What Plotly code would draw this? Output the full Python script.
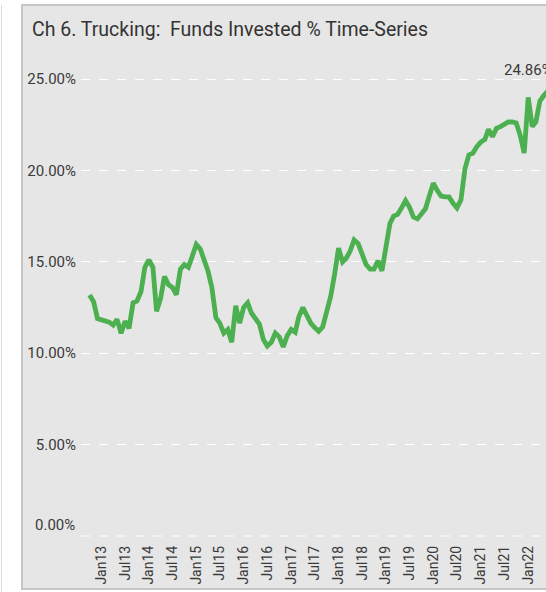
import pandas as pd
import plotly.graph_objects as go

# Monthly series (Funds Invested %), starting Oct 2012
start_month = "2012-10-01"
values = [
    13.18, 12.82, 11.90, 11.85, 11.78, 11.70, 11.54, 11.85, 11.09, 11.75,
    11.36, 12.76, 12.86, 13.36, 14.70, 15.10, 14.70, 12.30, 13.00, 14.20,
    13.75, 13.60, 13.20, 14.60, 14.85, 14.70, 15.30, 15.95, 15.70, 15.20,
    14.50, 13.60, 11.95, 11.65, 11.10, 11.30, 10.60, 12.60, 11.65, 12.50,
    12.75, 12.20, 11.85, 11.60, 10.75, 10.40, 10.60, 11.10, 10.90, 10.35,
    10.95, 11.30, 11.15, 12.00, 12.50, 12.10, 11.65, 11.40, 11.20, 11.45,
    12.15, 13.10, 14.30, 15.75, 15.00, 15.20, 15.60, 16.20, 16.00, 15.40,
    14.85, 14.60, 14.60, 15.05, 14.50, 15.80, 17.10, 17.50, 17.60, 17.95,
    18.35, 18.00, 17.45, 17.35, 17.65, 17.90, 18.60, 19.30, 18.90, 18.60,
    18.55, 18.55, 18.20, 17.95, 18.40, 20.10, 20.85, 20.95, 21.30, 21.55,
    21.70, 22.25, 21.85, 22.30, 22.40, 22.55, 22.65, 22.65, 22.60, 21.90,
    20.95, 24.00, 22.40, 22.65, 23.80, 24.10, 24.35, 24.86,
]
months = pd.date_range(start_month, periods=len(values), freq="MS")

tick_dates = ["2013-01-01", "2013-07-01", "2014-01-01", "2014-07-01", "2015-01-01",
              "2015-07-01", "2016-01-01", "2016-07-01", "2017-01-01", "2017-07-01",
              "2018-01-01", "2018-07-01", "2019-01-01", "2019-07-01", "2020-01-01",
              "2020-07-01", "2021-01-01", "2021-07-01", "2022-01-01"]
tick_labels = ["Jan13", "Jul13", "Jan14", "Jul14", "Jan15", "Jul15", "Jan16", "Jul16",
               "Jan17", "Jul17", "Jan18", "Jul18", "Jan19", "Jul19", "Jan20", "Jul20",
               "Jan21", "Jul21", "Jan22"]
y_ticks = [5, 10, 15, 20, 25]
y_tick_labels = ["5.00%", "10.00%", "15.00%", "20.00%", "25.00%"]

title_text = "Ch 6. Trucking:\u00a0 Funds Invested % Time-Series"
last_label = "24.86%"

W, H = 546, 592
ML, MR, MT, MB = 81, 0, 50, 52
PW, PH = W - ML - MR, H - MT - MB


def px_x(p):
    return (p - ML) / PW


def px_y(p):
    return (H - MB - p) / PH


FONT = "Roboto"
TXT = "#3a3a3a"

fig = go.Figure()
fig.add_trace(go.Scatter(
    x=months, y=values, mode="lines",
    line=dict(color="#4CAF50", width=4.8, shape="linear"),
    hoverinfo="skip", showlegend=False, cliponaxis=True,
))

fig.update_layout(
    width=W, height=H,
    margin=dict(l=ML, r=MR, t=MT, b=MB, pad=0),
    paper_bgcolor="white",
    plot_bgcolor="rgba(0,0,0,0)",
    font=dict(family=FONT, color=TXT),
    showlegend=False,
    xaxis=dict(
        type="date",
        range=["2012-07-27", "2022-05-18"],
        tickmode="array", tickvals=tick_dates, ticktext=tick_labels,
        tickangle=-90, tickfont=dict(size=14, color=TXT, family=FONT),
        showgrid=False, zeroline=False, showline=False, ticks="",
        ticklabelstandoff=2,
    ),
    yaxis=dict(
        range=[-0.219, 26.59],
        tickmode="array", tickvals=y_ticks, ticktext=y_tick_labels,
        tickfont=dict(size=15, color=TXT, family=FONT),
        showgrid=True, gridcolor="white", griddash="dash", gridwidth=1,
        zeroline=False, showline=False, ticks="", ticklabelstandoff=4,
    ),
    shapes=[
        # panel
        dict(type="rect", xref="paper", yref="paper",
             x0=px_x(22), x1=px_x(W + 10), y0=px_y(589), y1=px_y(5),
             fillcolor="#e6e6e6", line=dict(color="#c6c6c6", width=2), layer="below"),
        # thin outer line on far left
        dict(type="line", xref="paper", yref="paper",
             x0=px_x(1.5), x1=px_x(1.5), y0=px_y(592), y1=px_y(5),
             line=dict(color="#dcdcdc", width=1), layer="below"),
        # zero gridline
        dict(type="line", xref="paper", yref="y",
             x0=0, x1=1, y0=0, y1=0,
             line=dict(color="white", width=1, dash="dash"), layer="below"),
    ],
    annotations=[
        dict(text=title_text, xref="paper", yref="paper",
             x=px_x(30), y=px_y(30), xanchor="left", yanchor="middle",
             showarrow=False, font=dict(size=19.5, color="#333333", family=FONT)),
        dict(text="0.00%", xref="paper", yref="paper",
             x=px_x(77), y=px_y(525), xanchor="right", yanchor="middle",
             showarrow=False, font=dict(size=15, color=TXT, family=FONT)),
        dict(text=last_label, xref="paper", yref="paper",
             x=px_x(502), y=px_y(70), xanchor="left", yanchor="middle",
             showarrow=False, font=dict(size=15, color=TXT, family=FONT)),
    ],
)

fig.write_html(
    "out.html",
    config={"displayModeBar": False},
    post_script="document.body.style.margin='0';document.body.style.padding='0';"
                "document.body.style.overflow='hidden';",
)
